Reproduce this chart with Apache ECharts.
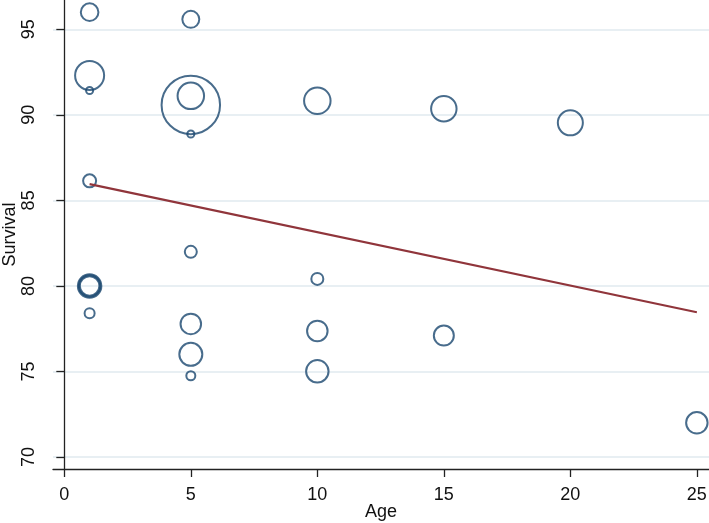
<!DOCTYPE html>
<html>
<head>
<meta charset="utf-8">
<script src="https://cdn.jsdelivr.net/npm/echarts@6/dist/echarts.min.js"></script>
<style>
html,body{margin:0;padding:0;background:#fff;}
#chart{width:709px;height:523px;}
</style>
</head>
<body>
<div id="chart"></div>
<script>
// Age (x), Survival (y), weight (bubble area)
const ages     = [1, 5, 1, 1, 5, 5, 5, 1, 5, 10, 1, 1, 1, 1, 5, 5, 5, 10, 10, 15, 25, 10, 15, 20];
const survival = [96.0, 95.58, 92.3, 91.42, 90.58, 91.11, 88.88, 86.14, 81.99, 80.41, 80.0, 80.0, 80.0, 78.4, 77.78, 76.0, 74.75, 77.37, 75.01, 77.1, 72.0, 90.82, 90.35, 89.53];
const weights  = [8.6, 8.0, 23.4, 1.4, 95, 19.5, 1.4, 4.7, 4.0, 4.0, 15.3, 12.8, 10.6, 2.8, 11.7, 14.7, 2.25, 11.7, 14.0, 11.1, 12.8, 19.5, 18.0, 17.4];
// fitted line endpoints
const fitAge = [1, 25];
const fitSurvival = [85.95, 78.46];
// ticks
const xTicks = [0, 5, 10, 15, 20, 25];
const yTicks = [70, 75, 80, 85, 90, 95];

const bubbleData = ages.map((a, i) => [a, survival[i], weights[i]]);
const fitData = fitAge.map((a, i) => [a, fitSurvival[i]]);

const chart = echarts.init(document.getElementById('chart'));
const font = 'Liberation Sans, Arial, sans-serif';
chart.setOption({
  animation: false,
  backgroundColor: '#fff',
  grid: {left: 53, right: 0, top: 0, bottom: 54, containLabel: false, outerBoundsMode: 'none'},
  xAxis: {
    type: 'value', min: -0.447, max: 25.48,
    name: 'Age', nameLocation: 'middle', nameGap: 34, nameMoveOverlap: false,
    nameTextStyle: {fontFamily: font, fontSize: 18, color: '#111'},
    axisLine: {show: true, lineStyle: {color: '#222', width: 1.3}},
    axisTick: {show: true, length: 8, lineStyle: {color: '#222', width: 1.3}, customValues: xTicks},
    axisLabel: {fontFamily: font, fontSize: 18, color: '#111', margin: 17, customValues: xTicks},
    splitLine: {show: false}
  },
  yAxis: {
    type: 'value', min: 69.30, max: 96.71,
    name: 'Survival', nameLocation: 'middle', nameGap: 34, nameRotate: 90, nameMoveOverlap: false,
    nameTextStyle: {fontFamily: font, fontSize: 18, color: '#111'},
    axisLine: {show: true, lineStyle: {color: '#222', width: 1.3}},
    axisTick: {show: true, length: 8, lineStyle: {color: '#222', width: 1.3}, customValues: yTicks},
    axisLabel: {fontFamily: font, fontSize: 18, color: '#111', margin: 15, rotate: 90, customValues: yTicks},
    splitLine: {show: true, lineStyle: {color: '#e1eaef', width: 1.5}}
  },
  series: [
    {
      type: 'scatter',
      data: bubbleData,
      symbol: 'circle',
      symbolSize: d => 6 * Math.sqrt(d[2]),
      itemStyle: {color: 'rgba(0,0,0,0)', borderColor: '#1a476f', borderWidth: 2},
      z: 3
    },
    {
      type: 'line',
      data: fitData,
      showSymbol: false,
      lineStyle: {color: '#90353b', width: 2.2},
      z: 4
    }
  ]
});
</script>
</body>
</html>
